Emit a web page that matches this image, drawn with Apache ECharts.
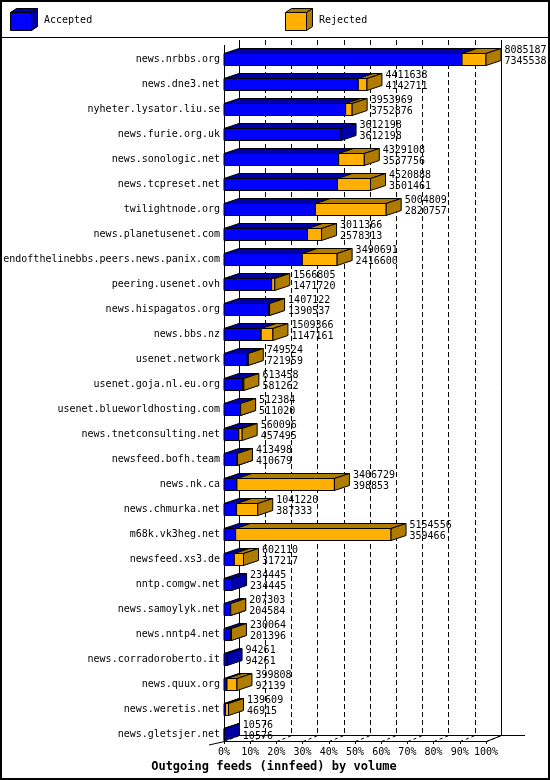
<!DOCTYPE html>
<html>
<head>
<meta charset="utf-8">
<script src="https://cdn.jsdelivr.net/npm/echarts@6/dist/echarts.min.js"></script>
<style>
  html, body { margin: 0; padding: 0; background: #fff; }
  #chart { width: 550px; height: 780px; }
</style>
</head>
<body>
<div id="chart"></div>
<script>
// innfeed outgoing feeds, sorted by accepted volume
const sites = [
  'news.nrbbs.org', 'news.dne3.net', 'nyheter.lysator.liu.se', 'news.furie.org.uk',
  'news.sonologic.net', 'news.tcpreset.net', 'twilightnode.org', 'news.planetusenet.com',
  'endofthelinebbs.peers.news.panix.com', 'peering.usenet.ovh', 'news.hispagatos.org',
  'news.bbs.nz', 'usenet.network', 'usenet.goja.nl.eu.org', 'usenet.blueworldhosting.com',
  'news.tnetconsulting.net', 'newsfeed.bofh.team', 'news.nk.ca', 'news.chmurka.net',
  'm68k.vk3heg.net', 'newsfeed.xs3.de', 'nntp.comgw.net', 'news.samoylyk.net',
  'news.nntp4.net', 'news.corradoroberto.it', 'news.quux.org', 'news.weretis.net',
  'news.gletsjer.net'
];
// top number next to each bar
const offered = [
  8085187, 4411638, 3953969, 3612198, 4329108, 4520888, 5004809, 3011366,
  3490691, 1566805, 1407122, 1509366, 749524, 613458, 512384, 560096,
  413498, 3406729, 1041220, 5154556, 602110, 234445, 207303, 230064,
  94261, 399808, 139609, 10576
];
// bottom number next to each bar
const accepted = [
  7345538, 4142711, 3752876, 3612198, 3537756, 3501461, 2820757, 2578313,
  2416600, 1471720, 1390537, 1147161, 721959, 581262, 511020, 457495,
  410679, 398853, 387333, 359466, 317217, 234445, 204584, 201396,
  94261, 92139, 46915, 10576
];
const tickLabels = ['0%', '10%', '20%', '30%', '40%', '50%', '60%', '70%', '80%', '90%', '100%'];

const BLUE = '#0000ff', BLUE_D = '#0000a8';
const ORANGE = '#ffb000', ORANGE_D = '#b07c00';
const MONO = '"DejaVu Sans Mono", monospace';
const DX = 15, DY = 5, HALF = 6;

const maxVal = Math.max.apply(null, offered);
const rows = sites.map((s, i) => [
  accepted[i] / maxVal * 100, i, offered[i] / maxVal * 100, offered[i], accepted[i]
]);

function box(xl, xr, c, fill, dark, withSide) {
  const t = c - HALF, b = c + HALF;
  const st = { stroke: '#000', lineWidth: 1 };
  const out = [
    { type: 'rect', shape: { x: xl, y: t, width: Math.max(xr - xl, 0), height: b - t },
      style: Object.assign({ fill: fill }, st) },
    { type: 'polygon', shape: { points: [[xl, t], [xr, t], [xr + DX, t - DY], [xl + DX, t - DY]] },
      style: Object.assign({ fill: dark }, st) }
  ];
  if (withSide) {
    out.push({ type: 'polygon', shape: { points: [[xr, t], [xr + DX, t - DY], [xr + DX, b - DY], [xr, b]] },
      style: Object.assign({ fill: dark }, st) });
  }
  return out;
}

function renderBar(params, api) {
  const i = api.value(1);
  const p0 = api.coord([0, i]);
  const pa = api.coord([api.value(0), i]);
  const pt = api.coord([api.value(2), i]);
  const band = api.size([0, 1])[1];
  const c = Math.round(p0[1] + band * 0.22) + 0.5;
  const x0 = p0[0], xa = pa[0], xt = pt[0];
  const rej = xt - xa > 0.01;
  let kids = box(x0, xa, c, BLUE, BLUE_D, true);
  if (rej) kids = kids.concat(box(xa, xt, c, ORANGE, ORANGE_D, true));
  const lx = xt + DX + 3.5;
  kids.push({ type: 'text', style: { x: lx, y: c - 9, text: String(api.value(3)), fill: '#000',
    font: '10px ' + MONO, verticalAlign: 'middle', align: 'left' } });
  kids.push({ type: 'text', style: { x: lx, y: c + 1.5, text: String(api.value(4)), fill: '#000',
    font: '10px ' + MONO, verticalAlign: 'middle', align: 'left' } });
  return { type: 'group', children: kids };
}

function line(x1, y1, x2, y2, dash, w) {
  return { type: 'line', shape: { x1: x1, y1: y1, x2: x2, y2: y2 },
    style: { stroke: '#000', lineWidth: w || 1, lineDash: dash || null }, z: 1 };
}

// front plane: x 224..486, floor at 741 ; back plane shifted by (15,-6)
const fl = 224.5, fr = 486.5, fy = 741.5;
const floor = [];
for (let k = 0; k <= 10; k++) {
  const x = fl + (fr - fl) * k / 10;
  floor.push(line(x, fy, x + DX, fy - 6, [3, 3]));
}

const chart = echarts.init(document.getElementById('chart'));
chart.setOption({
  animation: false,
  backgroundColor: '#fff',
  grid: [
    { left: 224, width: 262, top: 41, height: 700 },
    { left: 239, width: 262, top: 40, height: 695 }
  ],
  xAxis: [
    { gridIndex: 0, type: 'value', min: 0, max: 100, interval: 10,
      axisLine: { show: true, lineStyle: { color: '#000', width: 1 } },
      axisTick: { show: true, length: 3, lineStyle: { color: '#000' } },
      splitLine: { show: false },
      axisLabel: { color: '#000', fontFamily: MONO, fontSize: 10, margin: 6,
        showMinLabel: true, showMaxLabel: true,
        formatter: v => tickLabels[Math.round(v / 10)] } },
    { gridIndex: 1, type: 'value', min: 0, max: 100, interval: 10,
      axisLine: { show: false }, axisTick: { show: false }, axisLabel: { show: false },
      splitLine: { show: true, showMinLine: false, showMaxLine: false,
        lineStyle: { color: '#000', type: [5, 3], width: 1 } } }
  ],
  yAxis: [
    { gridIndex: 0, type: 'category', data: sites, inverse: true,
      axisLine: { show: false }, axisTick: { show: false }, splitLine: { show: false },
      axisLabel: { color: '#000', fontFamily: MONO, fontSize: 10, margin: 4,
        verticalAlign: 'top', lineHeight: 11, interval: 0 } },
    { gridIndex: 1, type: 'value', show: false }
  ],
  series: [{
    type: 'custom',
    xAxisIndex: 0, yAxisIndex: 0,
    renderItem: renderBar,
    encode: { x: 0, y: 1 },
    data: rows,
    z: 5
  }],
  graphic: [
    // outer frame and legend separator
    { type: 'rect', shape: { x: 1, y: 1, width: 548, height: 778 },
      style: { fill: null, stroke: '#000', lineWidth: 2 } },
    line(0, 37.5, 550, 37.5),
    // legend: Accepted
    { type: 'polygon', shape: { points: [[10.5, 12.5], [31.5, 12.5], [37.5, 8.5], [16.5, 8.5]] },
      style: { fill: BLUE_D, stroke: '#000' } },
    { type: 'polygon', shape: { points: [[31.5, 12.5], [37.5, 8.5], [37.5, 26.5], [31.5, 30.5]] },
      style: { fill: BLUE_D, stroke: '#000' } },
    { type: 'rect', shape: { x: 10.5, y: 12.5, width: 21, height: 18 }, style: { fill: BLUE, stroke: '#000' } },
    { type: 'text', style: { x: 44, y: 20.5, text: 'Accepted', font: '10px ' + MONO, fill: '#000', verticalAlign: 'middle' } },
    // legend: Rejected
    { type: 'polygon', shape: { points: [[285.5, 12.5], [306.5, 12.5], [312.5, 8.5], [291.5, 8.5]] },
      style: { fill: ORANGE_D, stroke: '#000' } },
    { type: 'polygon', shape: { points: [[306.5, 12.5], [312.5, 8.5], [312.5, 26.5], [306.5, 30.5]] },
      style: { fill: ORANGE_D, stroke: '#000' } },
    { type: 'rect', shape: { x: 285.5, y: 12.5, width: 21, height: 18 }, style: { fill: ORANGE, stroke: '#000' } },
    { type: 'text', style: { x: 319, y: 20.5, text: 'Rejected', font: '10px ' + MONO, fill: '#000', verticalAlign: 'middle' } },
    // 3d frame: category axis, back plane edges, floor
    line(fl, 45, fl, fy),
    line(239.5, 40, 239.5, 735.5),
    line(501.5, 40, 501.5, 735.5),
    line(239.5, 735.5, 525, 735.5),
    line(fr, fy, fr + DX, fy - 6),
    line(209, 745, fl, fy),
    ...floor,
    // title
    { type: 'text', style: { x: 274, y: 767, text: 'Outgoing feeds (innfeed) by volume',
      font: 'bold 12px ' + MONO, fill: '#000', align: 'center', verticalAlign: 'middle' } }
  ]
});
</script>
</body>
</html>
